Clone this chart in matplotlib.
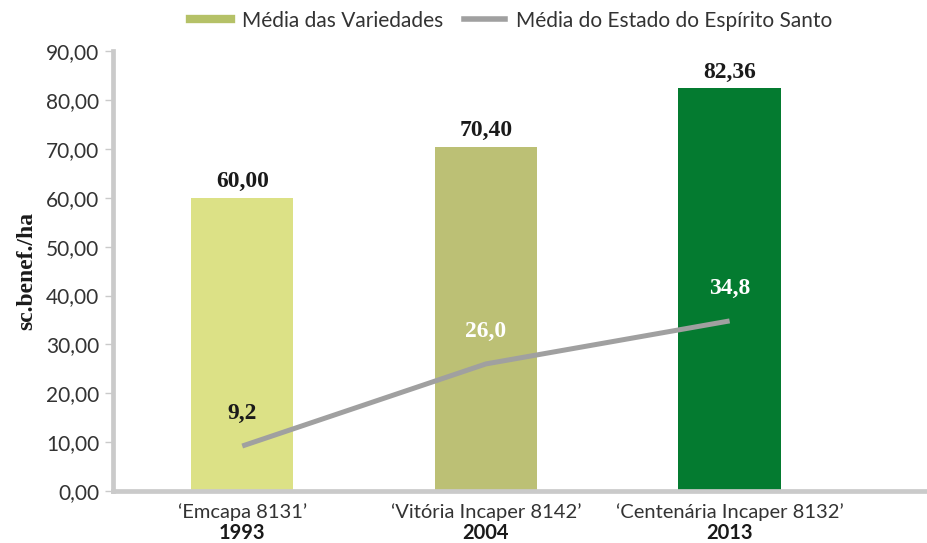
import matplotlib
matplotlib.use("Agg")
import matplotlib.pyplot as plt
from matplotlib.lines import Line2D
import numpy as np

categories = ["\u2018Emcapa 8131\u2019", "\u2018Vit\u00f3ria Incaper 8142\u2019", "\u2018Centen\u00e1ria Incaper 8132\u2019"]
years = ["1993", "2004", "2013"]
variety_means = [60.00, 70.40, 82.36]
state_means = [9.2, 26.0, 34.8]
variety_labels = ["60,00", "70,40", "82,36"]
state_labels = ["9,2", "26,0", "34,8"]
yticks = [0, 10, 20, 30, 40, 50, 60, 70, 80, 90]
ytick_labels = ["0,00", "10,00", "20,00", "30,00", "40,00", "50,00", "60,00", "70,00", "80,00", "90,00"]

bar_colors = ["#dce186", "#bcc075", "#047b30"]
state_label_colors = ["#1a1a1a", "#ffffff", "#ffffff"]
line_color = "#a0a0a0"
spine_color = "#cacaca"
sans = ["Lato", "DejaVu Sans"]
serif = ["Liberation Serif", "DejaVu Serif"]

fig = plt.figure(figsize=(9.27, 5.43), dpi=100)
ax = fig.add_axes([0.122, 0.0958, 0.878, 0.810])

x = np.arange(len(categories))
ax.bar(x, variety_means, width=0.42, color=bar_colors, zorder=2)
ax.plot(x, state_means, color=line_color, lw=3.6, zorder=3, solid_capstyle="butt")

for xi, v, lab in zip(x, variety_means, variety_labels):
    ax.text(xi, v + 1.2, lab, ha="center", va="bottom", fontsize=17,
            fontweight="bold", family=serif, color="#1a1a1a", zorder=4)
for xi, v, lab, c in zip(x, state_means, state_labels, state_label_colors):
    ax.text(xi, v + 6.6, lab, ha="center", va="center", fontsize=17,
            fontweight="bold", family=serif, color=c, zorder=4)

ax.set_xlim(-0.53, 2.81)
ax.set_ylim(0, 90)
ax.set_yticks(yticks)
ax.set_yticklabels(ytick_labels, family=sans, fontsize=15, color="#333333")
ax.set_xticks(x)
ax.set_xticklabels([""] * 3)
ax.tick_params(axis="x", length=0)
ax.tick_params(axis="y", length=6, width=1, color=spine_color, pad=4)

for xi, cat, yr in zip(x, categories, years):
    ax.text(xi, -4.4, cat, ha="center", va="center", fontsize=14.5, family=sans,
            color="#333333", transform=ax.transData, clip_on=False)
    ax.text(xi, -8.7, yr, ha="center", va="center", fontsize=14.5, family=sans,
            fontweight="bold", color="#1a1a1a", transform=ax.transData, clip_on=False)

for s in ["top", "right"]:
    ax.spines[s].set_visible(False)
for s in ["left", "bottom"]:
    ax.spines[s].set_color(spine_color)
    ax.spines[s].set_linewidth(3.4)

ax.set_ylabel("sc.benef./ha", family=serif, fontweight="bold", fontsize=17,
              color="#1a1a1a", labelpad=6)

handles = [Line2D([0], [0], color="#b5c167", lw=6),
           Line2D([0], [0], color=line_color, lw=4)]
fig.legend(handles, ["M\u00e9dia das Variedades", "M\u00e9dia do Estado do Esp\u00edrito Santo"],
           loc="upper center", bbox_to_anchor=(0.551, 1.015), ncol=2, frameon=False,
           prop={"family": sans, "size": 15}, handlelength=2.0, handletextpad=0.5,
           columnspacing=1.0, labelcolor="#333333")

fig.savefig("out.png", dpi=100, facecolor="white")
